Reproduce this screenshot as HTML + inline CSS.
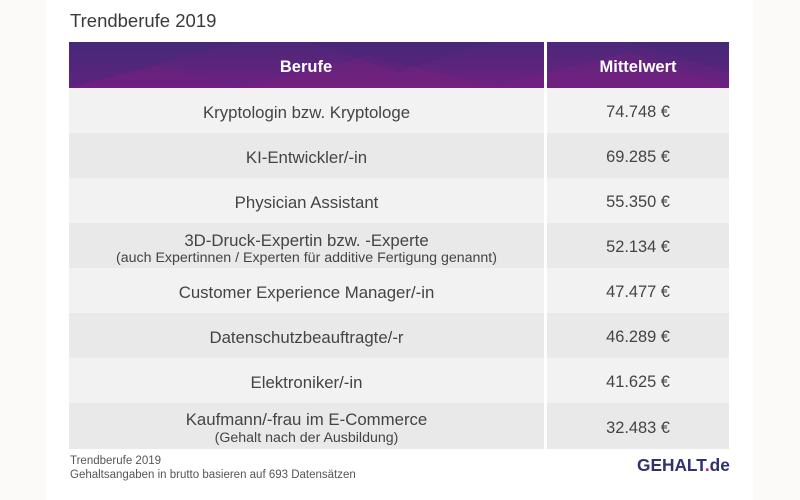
<!DOCTYPE html>
<html><head><meta charset="utf-8">
<style>
html,body{margin:0;padding:0;}
body{width:800px;height:500px;position:relative;background:#fbfaf8;font-family:"Liberation Sans",sans-serif;overflow:hidden;}
.card{position:absolute;left:46px;top:0;width:707px;height:500px;background:#fff;}
.t{position:absolute;color:#444;white-space:nowrap;}
.row{position:absolute;left:69px;width:660px;height:45px;}
.c1{position:absolute;left:0;top:0;width:475px;height:45px;}
.c2{position:absolute;left:478px;top:0;width:182px;height:45px;}
.lbl{position:absolute;left:0;width:475px;text-align:center;font-size:16.8px;color:#444;white-space:nowrap;}
.sub{position:absolute;left:0;width:475px;text-align:center;font-size:14.2px;color:#444;white-space:nowrap;}
.val{position:absolute;left:478px;width:182px;text-align:center;font-size:16.4px;color:#444;}
</style></head><body>
<div class="card"></div>
<div class="t" style="left:70px;top:10px;font-size:18.5px;color:#3a3a3a;">Trendberufe 2019</div>

<svg style="position:absolute;left:69px;top:42px" width="660" height="46" viewBox="0 0 660 46">
<defs>
<linearGradient id="g" x1="0" y1="0" x2="0" y2="1">
<stop offset="0" stop-color="#4b2879"/>
<stop offset="1" stop-color="#6d2180"/>
</linearGradient>
</defs>
<rect x="0" y="0" width="660" height="46" fill="url(#g)"/>
<polygon points="0,0 170,0 0,46" fill="#3d2a78" opacity="0.3"/>
<polygon points="170,46 300,14 430,46" fill="#83207f" opacity="0.3"/>
<polygon points="240,0 420,0 330,30" fill="#432676" opacity="0.3"/>
<polygon points="420,46 560,10 660,46" fill="#85207f" opacity="0.25"/>
<polygon points="560,0 660,0 660,30" fill="#3d2876" opacity="0.3"/>
<polygon points="0,46 90,24 170,46" fill="#7a2080" opacity="0.25"/>
<rect x="475" y="0" width="3" height="46" fill="#ffffff"/>
<text x="237" y="30" text-anchor="middle" font-family="Liberation Sans" font-weight="bold" font-size="16.5" fill="#fff">Berufe</text>
<text x="569" y="30" text-anchor="middle" font-family="Liberation Sans" font-weight="bold" font-size="16.5" fill="#fff">Mittelwert</text>
</svg>

<!-- rows -->
<div class="row" style="top:88px;"><div class="c1" style="background:#f2f2f2"></div><div class="c2" style="background:#f2f2f2"></div>
<div class="lbl" style="top:15px">Kryptologin bzw. Kryptologe</div><div class="val" style="top:15px">74.748 €</div></div>

<div class="row" style="top:133px;"><div class="c1" style="background:#e9e9e9"></div><div class="c2" style="background:#e9e9e9"></div>
<div class="lbl" style="top:15px">KI-Entwickler/-in</div><div class="val" style="top:15px">69.285 €</div></div>

<div class="row" style="top:178px;"><div class="c1" style="background:#f2f2f2"></div><div class="c2" style="background:#f2f2f2"></div>
<div class="lbl" style="top:15px">Physician Assistant</div><div class="val" style="top:15px">55.350 €</div></div>

<div class="row" style="top:223px;"><div class="c1" style="background:#e9e9e9"></div><div class="c2" style="background:#e9e9e9"></div>
<div class="lbl" style="top:8px">3D-Druck-Expertin bzw. -Experte</div><div class="sub" style="top:27px">(auch Expertinnen / Experten für additive Fertigung genannt)</div><div class="val" style="top:15px">52.134 €</div></div>

<div class="row" style="top:268px;"><div class="c1" style="background:#f2f2f2"></div><div class="c2" style="background:#f2f2f2"></div>
<div class="lbl" style="top:15px">Customer Experience Manager/-in</div><div class="val" style="top:15px">47.477 €</div></div>

<div class="row" style="top:313px;"><div class="c1" style="background:#e9e9e9"></div><div class="c2" style="background:#e9e9e9"></div>
<div class="lbl" style="top:15px">Datenschutzbeauftragte/-r</div><div class="val" style="top:15px">46.289 €</div></div>

<div class="row" style="top:358px;"><div class="c1" style="background:#f2f2f2"></div><div class="c2" style="background:#f2f2f2"></div>
<div class="lbl" style="top:15px">Elektroniker/-in</div><div class="val" style="top:15px">41.625 €</div></div>

<div class="row" style="top:403px;height:46px;"><div class="c1" style="background:#e9e9e9;height:46px"></div><div class="c2" style="background:#e9e9e9;height:46px"></div>
<div class="lbl" style="top:7px">Kaufmann/-frau im E-Commerce</div><div class="sub" style="top:27px">(Gehalt nach der Ausbildung)</div><div class="val" style="top:16px">32.483 €</div></div>

<div class="t" style="left:70px;top:455px;font-size:11.5px;color:#555;">Trendberufe 2019</div>
<div class="t" style="left:70px;top:469px;font-size:11.5px;color:#555;">Gehaltsangaben in brutto basieren auf 693 Datensätzen</div>
<div class="t" style="left:637px;top:455px;font-size:17.3px;font-weight:bold;color:#2f3170;">GEHALT<span style="color:#b0207a">.</span>de</div>
</body></html>
